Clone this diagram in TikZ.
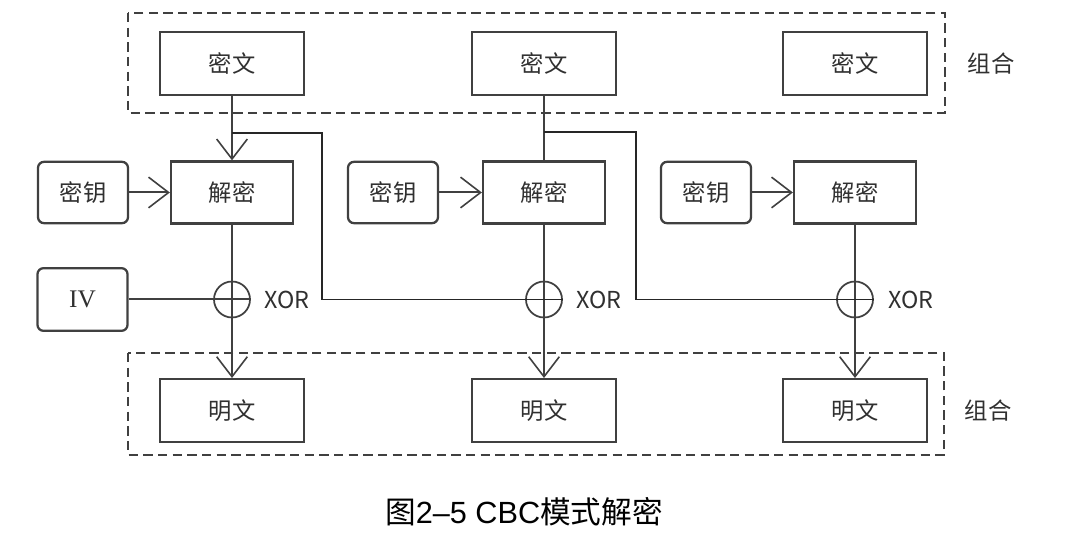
\documentclass[tikz,border=0pt]{standalone}
\usepackage{fontspec}
\setmainfont{Noto Sans CJK SC}
\newfontfamily\ivfont{Liberation Serif}
\newfontfamily\capfont{Liberation Sans}
\usetikzlibrary{arrows.meta}
\definecolor{lineg}{HTML}{404040}
\definecolor{txtg}{HTML}{303030}
\begin{document}
\begin{tikzpicture}[x=0.75pt,y=-0.75pt,
  box/.style={draw=lineg, line width=1.7pt, minimum width=108pt, minimum height=47pt, inner sep=0pt, font=\fontsize{17.5}{19}\selectfont, text=txtg},
  decbox/.style={box, minimum width=91.5pt, minimum height=46.5pt},
  keybox/.style={box, rounded corners=4.5pt, minimum width=67.5pt, minimum height=46pt},
  xorc/.style={draw=lineg, line width=1.3pt, circle, minimum size=27pt, inner sep=0pt},
  grp/.style={draw=lineg, line width=1.6pt, dash pattern=on 7pt off 4pt},
  conn/.style={draw=lineg, line width=1.5pt},
  thin/.style={draw=black!85, line width=1pt},
  arr/.style={-{Straight Barb[length=15pt, width=23pt, line width=1.2pt]}},
  lab/.style={font=\fontsize{17.5}{19}\selectfont, text=txtg},
]
\useasboundingbox (0,0) rectangle (1070,548);

% group frames
\draw[grp] (128,13) rectangle (945,113);
\draw[grp] (128,353) rectangle (944,455);
\node[lab] (g1) at (991,64) {组合};
\node[lab] (g2) at (988,411) {组合};

% ciphertext
\node[box] (c1) at (232,63.5) {密文};
\node[box] (c2) at (544,63.5) {密文};
\node[box] (c3) at (855,63.5) {密文};

% decrypt
\node[decbox] (d1) at (232,192.5) {解密};
\node[decbox] (d2) at (544,192.5) {解密};
\node[decbox] (d3) at (855,192.5) {解密};

% keys
\node[keybox] (k1) at (83,192.5) {密钥};
\node[keybox] (k2) at (393,192.5) {密钥};
\node[keybox] (k3) at (706,192.5) {密钥};

% IV
\node[keybox, font=\ivfont\fontsize{19}{21}\selectfont, minimum height=47pt] (iv) at (82.5,299.5) {IV};

% XOR
\node[xorc] (x1) at (232,299.5) {};
\node[xorc] (x2) at (544,299.5) {};
\node[xorc] (x3) at (855,299.5) {};
\node[lab, anchor=west] (xl1) at (260,299.5) {XOR};
\node[lab, anchor=west] (xl2) at (572,299.5) {XOR};
\node[lab, anchor=west] (xl3) at (884,299.5) {XOR};

% plaintext
\node[box] (p1) at (232,410.5) {明文};
\node[box] (p2) at (544,410.5) {明文};
\node[box] (p3) at (855,410.5) {明文};

% connectors
\draw[conn, arr] (c1.south) -- (d1.north);
\draw[conn] (c2.south) -- (d2.north);
\foreach \i in {1,2,3}{
  \draw[conn, arr] (k\i.east) -- (d\i.west);
  \draw[conn, arr] (d\i.south) -- (p\i.north);
}
\coordinate (b1) at (232,133);
\coordinate (b2) at (544,132);
\draw[thin] (b1) -- (322,133) |- (x2.east);
\draw[thin] (b2) -- (636,132) |- (x3.east);
\draw[conn] (iv.east) -- (x1.east);

% caption
\node[font=\fontsize{23}{25}\selectfont, text=black] (cap) at (524,512) {图{\capfont 2–5 CBC}模式解密};
\end{tikzpicture}
\end{document}
